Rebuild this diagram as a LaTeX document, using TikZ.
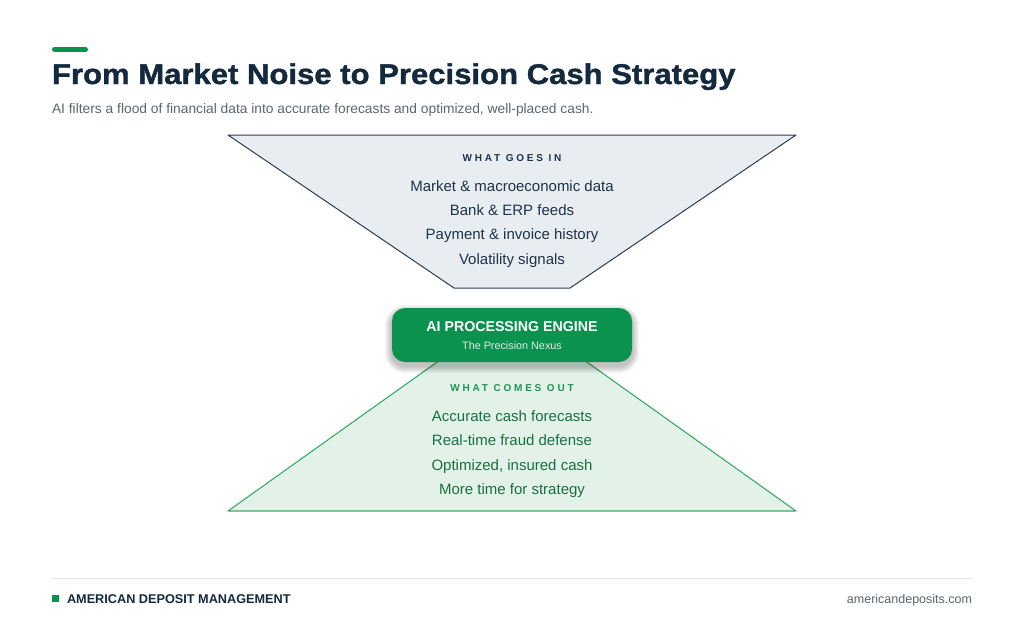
\documentclass[tikz,border=0pt]{standalone}
\usepackage{fontspec}
\setmainfont{Liberation Sans}
\newfontfamily\heavyfont[FakeBold=1.2]{Liberation Sans Bold}
\definecolor{navy}{HTML}{13293D}
\definecolor{bodynavy}{HTML}{1E3347}
\definecolor{greyt}{HTML}{5B6670}
\definecolor{brandgreen}{HTML}{0B924F}
\definecolor{topfill}{HTML}{E8EDF2}
\definecolor{topline}{HTML}{2E3D4E}
\definecolor{botfill}{HTML}{E3F2E8}
\definecolor{botline}{HTML}{3DAA68}
\definecolor{bottext}{HTML}{1B6E40}
\definecolor{bothead}{HTML}{1F9352}
\definecolor{rulegrey}{HTML}{E3E6E9}
\tikzset{
  base/.style={inner sep=0pt, outer sep=0pt, anchor=base},
  inlines/.style={base, font=\fontsize{15}{15}\selectfont, text=bodynavy},
  outlines/.style={base, font=\fontsize{15}{15}\selectfont, text=bottext},
  headin/.style={base, font=\fontsize{10}{10}\selectfont\bfseries\addfontfeature{LetterSpace=28}, text=bodynavy},
  headout/.style={base, font=\fontsize{10}{10}\selectfont\bfseries\addfontfeature{LetterSpace=28}, text=bothead},
  shadowlayer/.style={fill=black, fill opacity=0.035, draw=none},
}
\begin{document}
\begin{tikzpicture}[x=1pt,y=-1pt]
\useasboundingbox[fill=white] (0,0) rectangle (1024,640);
% header
\draw[brandgreen, line width=5pt, line cap=round] (54.5,49.5) coordinate (barl) -- (85.5,49.5) coordinate (barr);
\node[base, anchor=base west, text=navy] (title) at (52,84) {\scalebox{1.09}[1]{\heavyfont\fontsize{28.5}{28.5}\selectfont From Market Noise to Precision Cash Strategy}};
\node[base, anchor=base west, text=greyt, font=\fontsize{13.8}{13.8}\selectfont] (sub) at (52,113) {AI filters a flood of financial data into accurate forecasts and optimized, well-placed cash.};
% bottom funnel (behind engine)
\draw[fill=botfill, draw=botline, line width=1.1pt, line join=round]
  (228,511) coordinate (bl) -- (454,350) coordinate (btl) -- (570,350) coordinate (btr) -- (796,511) coordinate (br) -- cycle;
% top funnel
\draw[fill=topfill, draw=topline, line width=1pt, line join=round]
  (228,135) coordinate (tl) -- (796,135) coordinate (tr) -- (570,288) coordinate (tbr) -- (454,288) coordinate (tbl) -- cycle;
\node[headin] (hin) at (512,161) {WHAT GOES IN};
\node[inlines] (i1) at (512,191) {Market \& macroeconomic data};
\node[inlines] (i2) at (512,215.3) {Bank \& ERP feeds};
\node[inlines] (i3) at (512,239.6) {Payment \& invoice history};
\node[inlines] (i4) at (512,264) {Volatility signals};
% engine shadow
\foreach \g in {1,2,...,7}{
  \fill[shadowlayer, rounded corners=13pt+\g pt] (392-\g,308-\g+4) rectangle (632+\g,362+\g+4);
}
% engine
\node[draw=none, fill=brandgreen, rounded corners=13pt, minimum width=240pt, minimum height=54pt, inner sep=0pt] (engine) at (512,335) {};
\node[base, text=white, font=\fontsize{14.2}{14.2}\selectfont\bfseries] (etitle) at (512,331.5) {AI PROCESSING ENGINE};
\node[base, text=white!85!brandgreen, font=\fontsize{10.8}{10.8}\selectfont] (esub) at (512,349) {The Precision Nexus};
% outputs
\node[headout] (hout) at (512,391) {WHAT COMES OUT};
\node[outlines] (o1) at (512,421.5) {Accurate cash forecasts};
\node[outlines] (o2) at (512,445.8) {Real-time fraud defense};
\node[outlines] (o3) at (512,470) {Optimized, insured cash};
\node[outlines] (o4) at (512,494.3) {More time for strategy};
% footer
\draw[rulegrey, line width=1pt] (52,578) coordinate (rl) -- (972,578) coordinate (rr);
\node[fill=brandgreen, minimum size=7pt, inner sep=0pt] (sq) at (55.5,598.5) {};
\node[base, anchor=base west, text=navy, font=\fontsize{12.7}{12.7}\selectfont\bfseries] (brand) at (67,603) {AMERICAN DEPOSIT MANAGEMENT};
\node[base, anchor=base east, text=greyt, font=\fontsize{12.5}{12.5}\selectfont] (url) at (972,603) {americandeposits.com};
\end{tikzpicture}
\end{document}
